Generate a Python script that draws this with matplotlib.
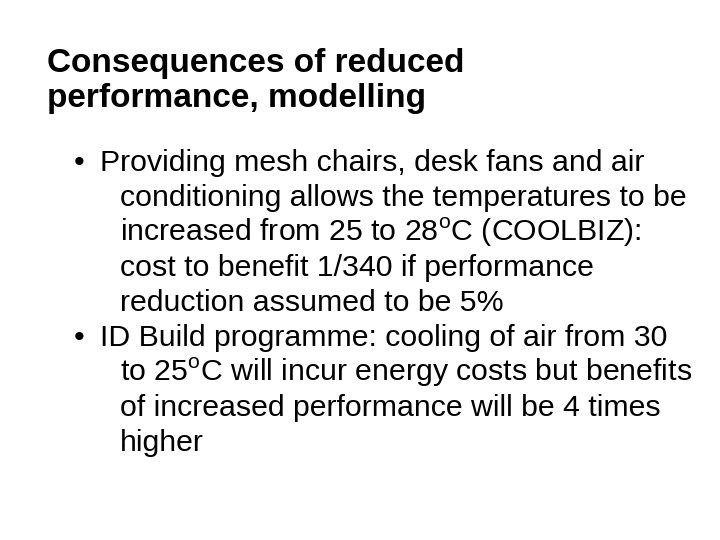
import matplotlib
matplotlib.use("Agg")
import matplotlib.pyplot as plt

plt.rcParams['font.family'] = ['Liberation Sans', 'DejaVu Sans']
plt.rcParams['mathtext.fontset'] = 'custom'
plt.rcParams['mathtext.rm'] = 'Liberation Sans'

title_lines = ["Consequences of reduced", "performance, modelling"]
bullets = [
    ["Providing mesh chairs, desk fans and air",
     "conditioning allows the temperatures to be",
     r"increased from 25 to 28$^{\mathrm{o}}$C (COOLBIZ):",
     "cost to benefit 1/340 if performance",
     "reduction assumed to be 5%"],
    ["ID Build programme: cooling of air from 30",
     r"to 25$^{\mathrm{o}}$C will incur energy costs but benefits",
     "of increased performance will be 4 times",
     "higher"],
]

W, H = 720, 540
fig = plt.figure(figsize=(7.2, 5.4), dpi=100)
fig.patch.set_facecolor('white')

def put(x, y, s, **kw):
    fig.text(x / W, 1 - y / H, s, va='baseline', ha='left', color='black', **kw)

put(47, 72, title_lines[0], fontsize=24, fontweight='bold')
put(47, 107, title_lines[1], fontsize=24, fontweight='bold')

y = 171
step = 35
for b in bullets:
    for i, line in enumerate(b):
        if i == 0:
            put(74, y, "•", fontsize=21.8)
            put(100, y, line, fontsize=21.8)
        else:
            put(120, y, line, fontsize=21.8)
        y += step

fig.savefig("out.png", dpi=100)
